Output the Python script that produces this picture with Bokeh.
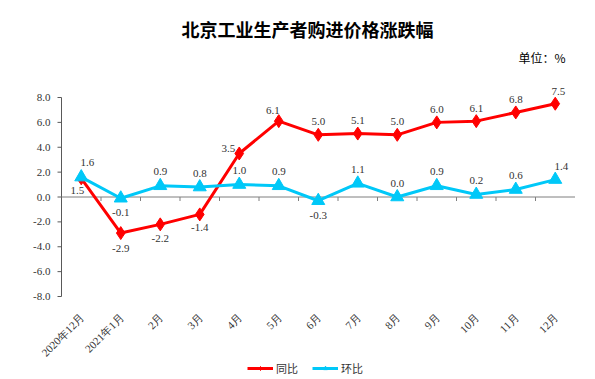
from bokeh.plotting import figure
from bokeh.models import (ColumnDataSource, LabelSet, Label, Legend,
                          LegendItem, Range1d)
from bokeh.embed import file_html
from bokeh.resources import INLINE
from math import pi

categories = ["2020年12月", "2021年1月", "2月", "3月", "4月", "5月", "6月",
              "7月", "8月", "9月", "10月", "11月", "12月"]
yoy = [1.5, -2.9, -2.2, -1.4, 3.5, 6.1, 5.0, 5.1, 5.0, 6.0, 6.1, 6.8, 7.5]
mom = [1.6, -0.1, 0.9, 0.8, 1.0, 0.9, -0.3, 1.1, 0.0, 0.9, 0.2, 0.6, 1.4]
y_ticks = [-8, -6, -4, -2, 0, 2, 4, 6, 8]

# label offsets (screen px)
yoy_dx = [-4, 0, 0, 0, -11, -6, 0, 0, 0, 0, 0, 0, 3]
yoy_dy = [-12, -15, -14, -13, 5, 11, 13, 13, 13, 13, 13, 13, 12]
mom_dx = [6, 0, 0, 0, 0, 0, 0, 0, 0, 0, 0, 0, 6]
mom_dy = [15, -14, 14, 14, 14, 14, -15, 14, 14, 14, 14, 14, 13]

RED = "#FF0000"
CYAN = "#00C8F8"
AXIS = "#595959"
NUMFONT = "Liberation Serif"
LBLFONT = "Liberation Sans"
CJK = "Noto Sans CJK SC"

# layout (pixels): the whole canvas is the plotting frame
W, H = 595, 379
AXIS_X_PX = 61          # y-axis line
CAT_W = 39.5            # width of one category
TOP_PX = 97             # position of the top tick
PX_PER_UNIT = 199 / 16.0

n = len(categories)
x_lo = -0.5 - AXIS_X_PX / CAT_W
x_hi = x_lo + W / CAT_W
y_hi = y_ticks[-1] + TOP_PX / PX_PER_UNIT
y_lo = y_hi - H / PX_PER_UNIT
tick_len = 4 / CAT_W

x = list(range(n))
src = ColumnDataSource(dict(
    x=x, yoy=yoy, mom=mom, cat=categories, base=[y_ticks[0]] * n,
    yoy_t=[f"{v:.1f}" for v in yoy], mom_t=[f"{v:.1f}" for v in mom],
    yoy_dx=yoy_dx, yoy_dy=yoy_dy, mom_dx=mom_dx, mom_dy=mom_dy))
ysrc = ColumnDataSource(dict(y=y_ticks, t=[f"{v:.1f}" for v in y_ticks],
                             x0=[-0.5] * len(y_ticks),
                             x1=[-0.5 - tick_len] * len(y_ticks)))

p = figure(width=W, height=H, output_backend="svg", toolbar_location=None,
           x_range=Range1d(x_lo, x_hi), y_range=Range1d(y_lo, y_hi),
           min_border=0)
p.outline_line_color = None
p.grid.visible = False
p.axis.visible = False

# titles
p.add_layout(Label(x=307, y=H - 28, x_units="screen", y_units="screen",
                   text="北京工业生产者购进价格涨跌幅", text_font=CJK,
                   text_font_size="18px", text_font_style="bold",
                   text_align="center", text_baseline="middle",
                   text_color="#000000"))
p.add_layout(Label(x=565, y=H - 57, x_units="screen", y_units="screen",
                   text="单位：%", text_font=CJK, text_font_size="12px",
                   text_align="right", text_baseline="middle",
                   text_color="#000000"))

# y axis
p.segment(x0=[-0.5], y0=[y_ticks[0]], x1=[-0.5], y1=[y_ticks[-1]],
          line_color=AXIS, line_width=1)
p.segment(x0="x0", y0="y", x1="x1", y1="y", source=ysrc,
          line_color=AXIS, line_width=1)
p.add_layout(LabelSet(x="x0", y="y", text="t", source=ysrc, x_offset=-11,
                      text_align="right", text_baseline="middle",
                      text_font=NUMFONT, text_font_size="11px",
                      text_color="#333333"))

# category labels, rotated 45 degrees below the bottom tick
p.add_layout(LabelSet(x="x", y="base", text="cat", source=src, angle=pi / 4,
                      x_offset=1, y_offset=-19, text_align="right",
                      text_baseline="middle", text_font=CJK,
                      text_font_size="11px", text_color="#333333"))

# zero line with category tick marks
p.segment(x0=[-0.5], y0=[0], x1=[n - 0.5], y1=[0], line_color="#7f7f7f",
          line_width=1)
bounds = [i + 0.5 for i in x[:-1]]
p.segment(x0=bounds, y0=[0] * len(bounds), x1=bounds,
          y1=[-4 / PX_PER_UNIT] * len(bounds), line_color="#7f7f7f", line_width=1)

r1l = p.line("x", "yoy", source=src, line_color=RED, line_width=3)
r1s = p.scatter("x", "yoy", source=src, marker="diamond", size=13,
                fill_color=RED, line_color=RED)
r2l = p.line("x", "mom", source=src, line_color=CYAN, line_width=3)
r2s = p.scatter("x", "mom", source=src, marker="triangle", size=13,
                fill_color=CYAN, line_color=CYAN)

for col, dx, dy in (("yoy_t", "yoy_dx", "yoy_dy"), ("mom_t", "mom_dx", "mom_dy")):
    ycol = "yoy" if col == "yoy_t" else "mom"
    p.add_layout(LabelSet(x="x", y=ycol, text=col, source=src, x_offset=dx,
                          y_offset=dy, text_align="center", text_baseline="middle",
                          text_font=LBLFONT, text_font_size="11px",
                          text_color="#333333"))

legend = Legend(items=[LegendItem(label="同比", renderers=[r1l, r1s]),
                       LegendItem(label="环比", renderers=[r2l, r2s])],
                orientation="horizontal", location=(247, 3),
                label_text_font=CJK, label_text_font_size="11px",
                label_text_color="#333333", border_line_color=None,
                background_fill_alpha=0, glyph_width=26, glyph_height=10,
                spacing=14, padding=2, margin=0, label_standoff=3,
                label_height=14)
p.add_layout(legend)

open("out.html", "w").write(file_html(p, INLINE))
